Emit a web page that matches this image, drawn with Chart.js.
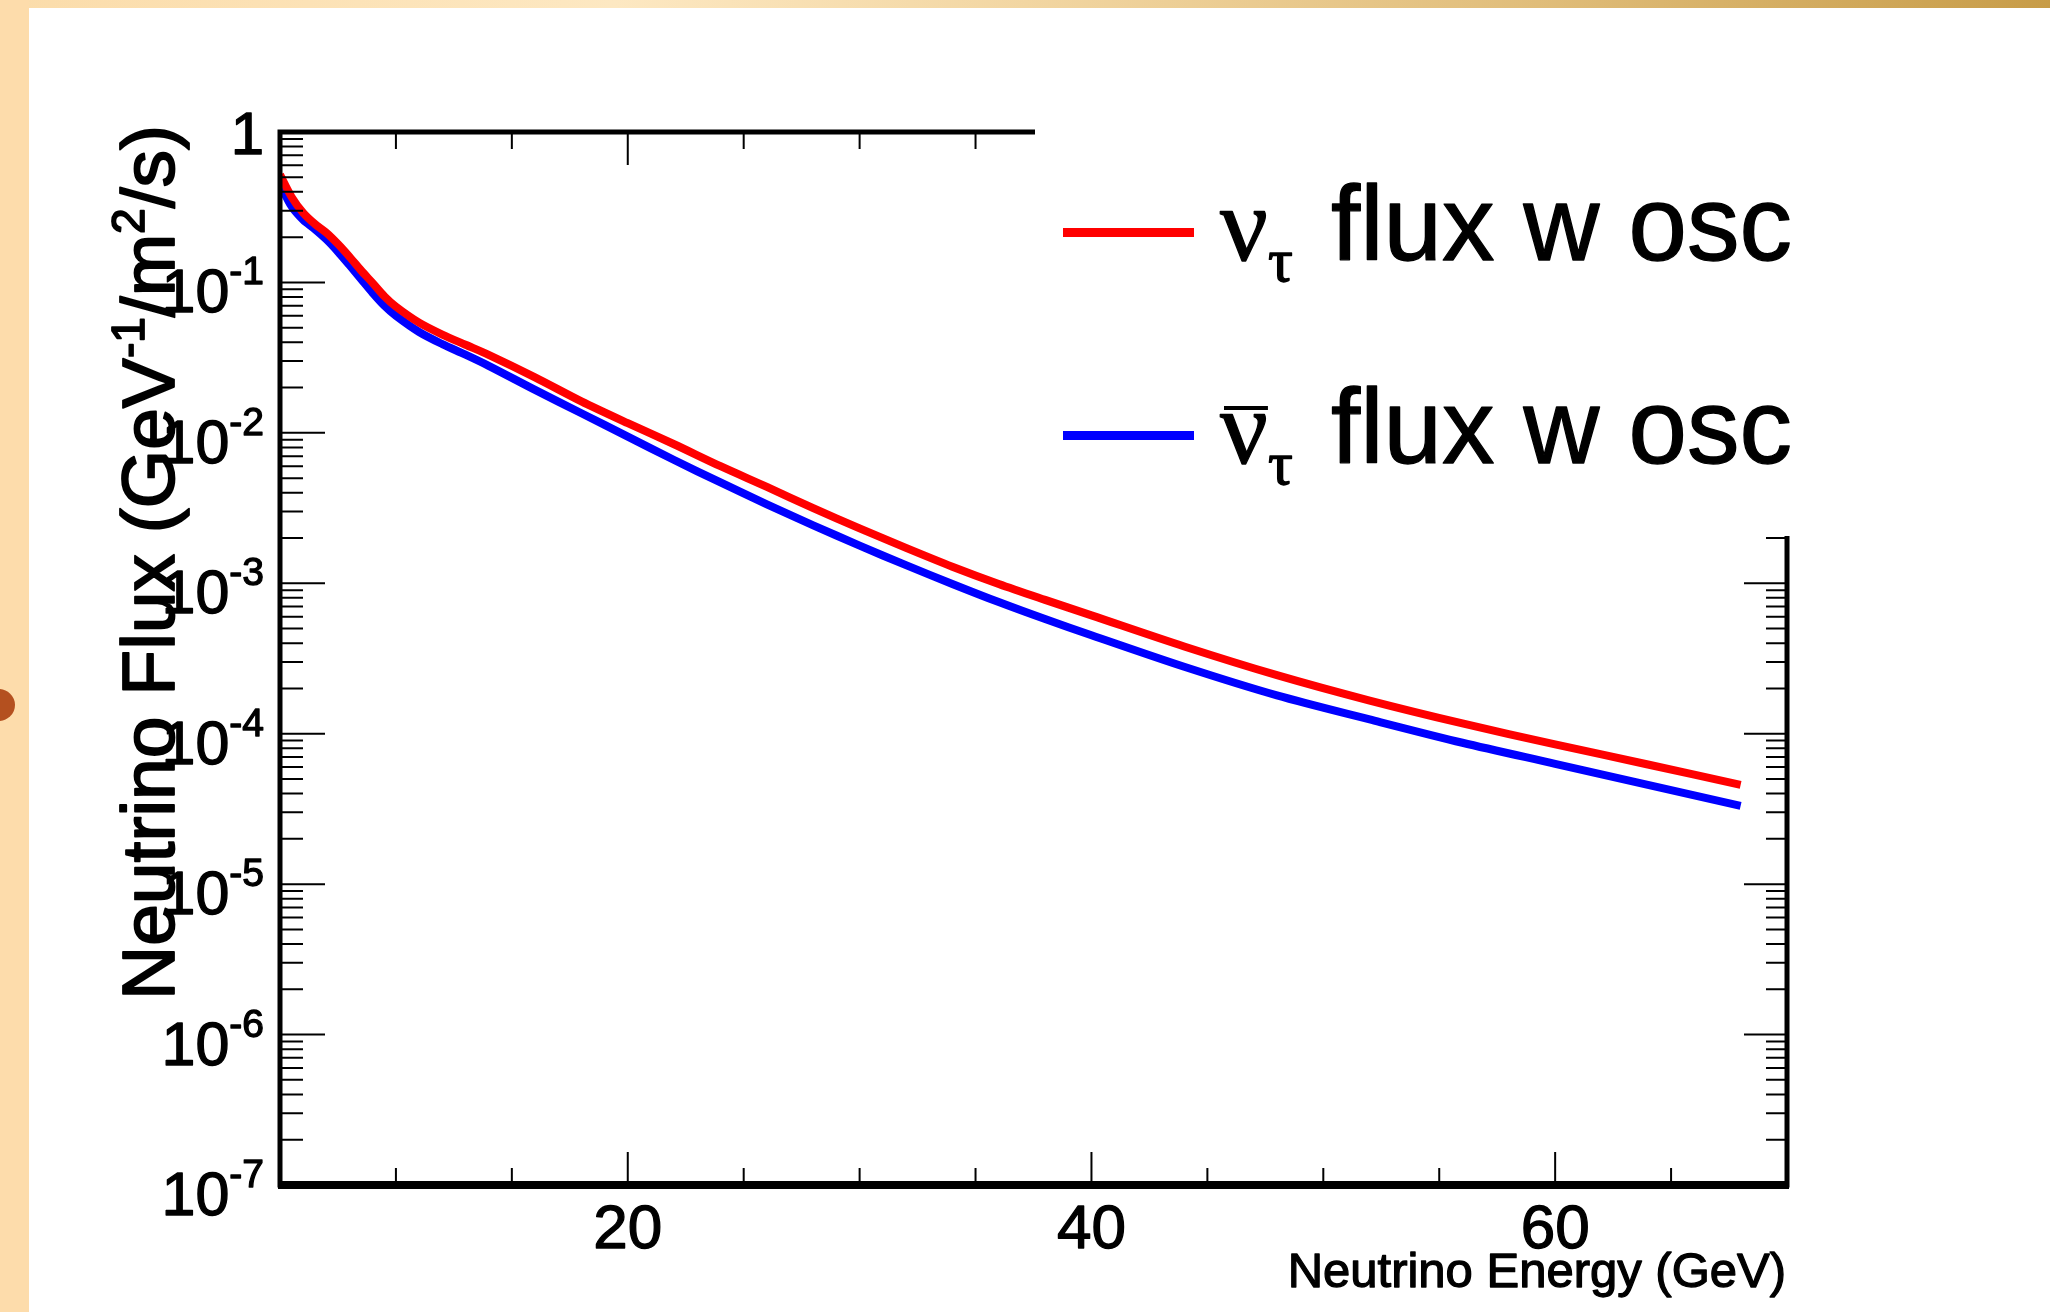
<!DOCTYPE html>
<html>
<head>
<meta charset="utf-8">
<title>Tau neutrino flux</title>
<script src="https://cdn.jsdelivr.net/npm/chart.js@4.4.1/dist/chart.umd.min.js"></script>
<style>
  html, body { margin: 0; padding: 0; background: #fff; }
  body { width: 2050px; height: 1312px; position: relative; overflow: hidden; }
  #topband { position: absolute; left: 0; top: 0; width: 2050px; height: 8px;
    background: linear-gradient(to right, #fbdcaa 0%, #fde8c2 30%, #f2d6a2 50%, #e0bd7a 75%, #c79c48 100%); }
  #sideband { position: absolute; left: 0; top: 0; width: 29px; height: 1312px; background: #fddcab; }
  #dot { position: absolute; left: -18px; top: 689px; width: 33px; height: 32px; border-radius: 50%; background: #b4501f; }
  #flux { position: absolute; left: 0; top: 0; }
</style>
</head>
<body>
<div id="topband"></div>
<div id="sideband"></div>
<div id="dot"></div>
<canvas id="flux" width="2050" height="1312"></canvas>
<script>
// energy bins (GeV)
const energy = [5, 5.5, 6, 6.5, 7, 7.5, 8, 8.5, 9, 9.5, 10, 11, 12, 13, 14, 16, 18, 20, 22, 24, 26, 28,
  30, 32, 34, 36, 38, 40, 44, 48, 52, 56, 60, 64, 68];

// nu_tau flux with oscillation (GeV^-1 / m^2 / s)
const fluxNuTau = [0.52, 0.37, 0.29, 0.245, 0.214, 0.18, 0.148, 0.12, 0.099, 0.081, 0.069, 0.054, 0.045,
  0.0385, 0.033, 0.0234, 0.0162, 0.0116, 0.0084, 0.0060, 0.00437, 0.00316, 0.00232, 0.00172, 0.00129,
  0.00099, 0.000776, 0.000612, 0.00038, 0.000245, 0.000166, 0.000117, 0.000085, 0.0000624, 0.0000457];

// anti nu_tau flux with oscillation
const fluxNuTauBar = [0.45, 0.32, 0.26, 0.226, 0.193, 0.16, 0.130, 0.105, 0.085, 0.070, 0.060, 0.0468, 0.0389,
  0.0331, 0.0279, 0.0193, 0.0135, 0.00944, 0.0066, 0.00468, 0.00335, 0.00243, 0.00178, 0.00132, 0.00099,
  0.00075, 0.000578, 0.000452, 0.000279, 0.00018, 0.0001245, 0.0000871, 0.0000631, 0.0000457, 0.0000331];

// axis ticks
const xMajorTicks = [20, 40, 60];
const xMinorTicks = [10, 15, 25, 30, 35, 45, 50, 55, 65];
const xTickLabels = ['20', '40', '60'];
const yDecades = [1, 1e-1, 1e-2, 1e-3, 1e-4, 1e-5, 1e-6, 1e-7];
const yTickExponents = ['', '-1', '-2', '-3', '-4', '-5', '-6', '-7'];

const legendLabels = ['flux w osc', 'flux w osc'];
const SANS = '"Liberation Sans", Arial, Helvetica, sans-serif';
const SERIF = '"Liberation Serif", "Times New Roman", serif';

// filled text with a thin outline, a bit heavier like ROOT's output
function text(ctx, s, x, y) {
  ctx.fillText(s, x, y);
  ctx.strokeText(s, x, y);
}

// ROOT-style frame: inner ticks, labels, titles and the legend box
const rootFrame = {
  id: 'rootFrame',
  afterDraw(chart) {
    const { ctx, chartArea: a } = chart;
    const xs = chart.scales.x, ys = chart.scales.y;
    ctx.save();
    ctx.strokeStyle = '#000';
    ctx.fillStyle = '#000';

    // x ticks, bottom and top
    ctx.lineWidth = 2;
    ctx.beginPath();
    xMajorTicks.forEach(v => {
      const px = xs.getPixelForValue(v);
      ctx.moveTo(px, a.bottom); ctx.lineTo(px, a.bottom - 33);
      ctx.moveTo(px, a.top); ctx.lineTo(px, a.top + 33);
    });
    xMinorTicks.forEach(v => {
      const px = xs.getPixelForValue(v);
      ctx.moveTo(px, a.bottom); ctx.lineTo(px, a.bottom - 17);
      ctx.moveTo(px, a.top); ctx.lineTo(px, a.top + 17);
    });
    // y ticks, left and right
    yDecades.forEach((d, i) => {
      const py = ys.getPixelForValue(d);
      ctx.moveTo(a.left, py); ctx.lineTo(a.left + 45, py);
      ctx.moveTo(a.right, py); ctx.lineTo(a.right - 43, py);
      if (i === 0) return;
      for (let k = 2; k <= 9; k++) {
        const pm = ys.getPixelForValue(d * k);
        ctx.moveTo(a.left, pm); ctx.lineTo(a.left + 23, pm);
        ctx.moveTo(a.right, pm); ctx.lineTo(a.right - 21, pm);
      }
    });
    ctx.stroke();

    // frame
    ctx.lineWidth = 5;
    ctx.strokeRect(a.left, a.top, a.right - a.left, a.bottom - a.top);
    ctx.lineWidth = 8;
    ctx.beginPath();
    ctx.moveTo(a.left - 2, a.bottom); ctx.lineTo(a.right + 2, a.bottom);
    ctx.stroke();

    // legend box hides the upper right corner of the frame
    ctx.fillStyle = '#fff';
    ctx.fillRect(1035, 20, 1015, 516);
    ctx.fillStyle = '#000';
    ctx.lineWidth = 1.3;
    ctx.lineJoin = 'round';

    // legend entries
    const rows = [{ color: '#ff0000', base: 260, bar: false }, { color: '#0000ff', base: 463, bar: true }];
    rows.forEach((r, i) => {
      ctx.fillStyle = r.color;
      ctx.fillRect(1063, r.base - 32, 131, 9);
      ctx.fillStyle = '#000';
      ctx.textAlign = 'left';
      ctx.textBaseline = 'alphabetic';
      ctx.font = '106px ' + SERIF;
      text(ctx, 'ν', 1220, r.base);
      const nuW = ctx.measureText('ν').width;
      if (r.bar) ctx.fillRect(1224, r.base - 57, nuW - 4, 4);
      ctx.font = '62px ' + SERIF;
      text(ctx, 'τ', 1220 + nuW, r.base + 21);
      ctx.font = '105px ' + SANS;
      text(ctx, legendLabels[i], 1331, r.base);
    });

    // x tick labels
    ctx.font = '62px ' + SANS;
    ctx.textAlign = 'center';
    xMajorTicks.forEach((v, i) => text(ctx, xTickLabels[i], xs.getPixelForValue(v), 1248));

    // x title
    ctx.font = '49px ' + SANS;
    ctx.textAlign = 'right';
    text(ctx, 'Neutrino Energy (GeV)', 1786, 1287);

    // y tick labels
    const labRight = 264;
    yDecades.forEach((d, i) => {
      const py = ys.getPixelForValue(d);
      ctx.textAlign = 'right';
      if (!yTickExponents[i]) {
        ctx.font = '60px ' + SANS;
        text(ctx, '1', labRight, py + 22);
        return;
      }
      ctx.font = '39px ' + SANS;
      const expW = ctx.measureText(yTickExponents[i]).width;
      text(ctx, yTickExponents[i], labRight, py + 2);
      ctx.font = '61px ' + SANS;
      text(ctx, '10', labRight - expW, py + 30);
    });

    // y title, rotated
    ctx.lineWidth = 1.8;
    ctx.translate(174, 1000);
    ctx.rotate(-Math.PI / 2);
    ctx.textAlign = 'left';
    const parts = [['Neutrino Flux (GeV', 0], ['-1', 1], ['/m', 0], ['2', 1], ['/s)', 0]];
    let cx = 0;
    parts.forEach(([t, sup]) => {
      ctx.font = (sup ? '46px ' : '75px ') + SANS;
      text(ctx, t, cx, sup ? -30 : 0);
      cx += ctx.measureText(t).width;
    });
    ctx.restore();
  }
};

const canvas = document.getElementById('flux');
new Chart(canvas, {
  type: 'line',
  data: {
    datasets: [
      {
        label: 'nu_tau flux w osc',
        data: energy.map((e, i) => ({ x: e, y: fluxNuTau[i] })),
        borderColor: '#ff0000',
        borderWidth: 8,
        pointRadius: 0,
        borderCapStyle: 'butt',
        tension: 0.3,
        fill: false
      },
      {
        label: 'anti nu_tau flux w osc',
        data: energy.map((e, i) => ({ x: e, y: fluxNuTauBar[i] })),
        borderColor: '#0000ff',
        borderWidth: 8,
        pointRadius: 0,
        borderCapStyle: 'butt',
        tension: 0.3,
        fill: false
      }
    ]
  },
  options: {
    responsive: false,
    animation: false,
    layout: { padding: { left: 280, top: 132, right: 263, bottom: 127 } },
    plugins: { legend: { display: false }, tooltip: { enabled: false } },
    scales: {
      x: { type: 'linear', min: 5, max: 70, display: false },
      y: { type: 'logarithmic', min: 1e-7, max: 1, display: false }
    }
  },
  plugins: [rootFrame]
});
</script>
</body>
</html>
